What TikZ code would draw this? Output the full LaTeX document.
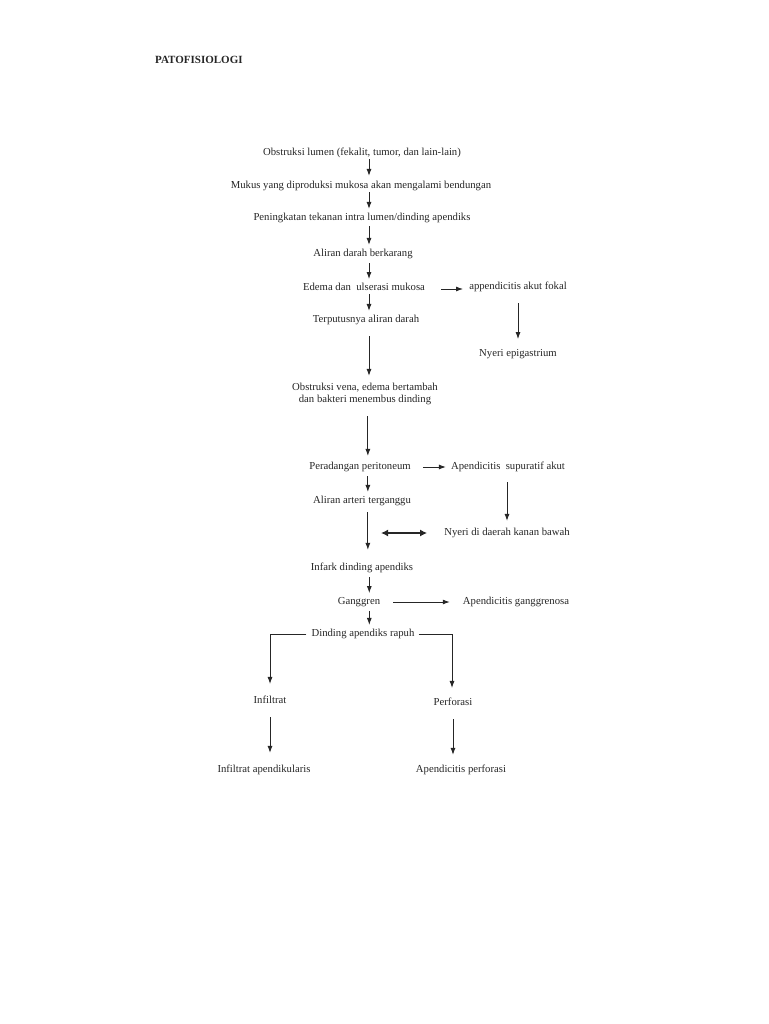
\documentclass[tikz,border=0pt]{standalone}
\usepackage{fontspec}
\setmainfont{Liberation Serif}
\usetikzlibrary{positioning, arrows.meta, calc}

\begin{document}
\begin{tikzpicture}[
    x=1pt, y=-1pt,
    txt/.style={font=\fontsize{10.7}{12}\selectfont, align=center, inner sep=1pt, text=black!85},
    arr/.style={-{Latex[length=7pt,width=5pt]}, line width=0.9pt, black!85},
    bothway/.style={{Latex[length=7pt,width=7pt]}-{Latex[length=7pt,width=7pt]}, line width=1.9pt, black!85}
]
\useasboundingbox (0,0) rectangle (768,1024);
\node[font=\fontsize{11}{13}\selectfont\bfseries, anchor=west, inner sep=0pt, text=black!85] (title) at (155,60) {PATOFISIOLOGI};

% main column
\coordinate (spine) at (369,0);
\node[txt] (obs)   at (362,153) {Obstruksi lumen (fekalit, tumor, dan lain-lain)};
\node[txt] (mukus) at (361,186) {Mukus yang diproduksi mukosa akan mengalami bendungan};
\node[txt] (tekan) at (362,218) {Peningkatan tekanan intra lumen/dinding apendiks};
\node[txt] (alir)  at (363,254) {Aliran darah berkarang};
\node[txt] (edema) at (364,287) {Edema dan \ ulserasi mukosa};
\node[txt] (putus) at (366,320) {Terputusnya aliran darah};
\node[txt] (vena)  at (365,394) {Obstruksi vena, edema bertambah\\dan bakteri menembus dinding};
\node[txt] (radang) at (360,467) {Peradangan peritoneum};
\node[txt] (arteri) at (362,501) {Aliran arteri terganggu};
\node[txt] (infark) at (362,568) {Infark dinding apendiks};
\node[txt] (gang)   at (359,602) {Ganggren};
\node[txt] (rapuh)  at (363,634) {Dinding apendiks rapuh};

% side column
\node[txt] (fokal)  at (518,287) {appendicitis akut fokal};
\node[txt] (epi)    at (518,354) {Nyeri epigastrium};
\node[txt] (supur)  at (508,467) {Apendicitis \ supuratif akut};
\node[txt] (nyeri)  at (507,533) {Nyeri di daerah kanan bawah};
\node[txt] (gosa)   at (516,602) {Apendicitis ganggrenosa};

% branches
\node[txt] (infil)  at (270,700) {Infiltrat};
\node[txt] (perf)   at (453,702) {Perforasi};
\node[txt] (apdk)   at (264,770) {Infiltrat apendikularis};
\node[txt] (apperf) at (461,770) {Apendicitis perforasi};
\coordinate (dblL) at (381,533);

\draw[arr, shorten >=4pt] (obs.south -| spine) -- (mukus.north -| spine);
\draw[arr, shorten >=3pt] (mukus.south -| spine) -- (tekan.north -| spine);
\draw[arr, shorten <=2pt, shorten >=3pt] (tekan.south -| spine) -- (alir.north -| spine);
\draw[arr, shorten <=3pt, shorten >=3pt] (alir.south -| spine) -- (edema.north -| spine);
\draw[arr, shorten <=2pt, shorten >=3pt] (edema.south -| spine) -- (putus.north -| spine);
\draw[arr, shorten <=10pt, shorten >=6pt] (putus.south -| spine) -- (vena.north -| spine);
\draw[arr, shorten <=10pt, shorten >=5pt] (vena.south -| radang.north east) ++(-44,0) coordinate (v0) -- (radang.north -| v0);
\draw[arr, shorten <=3pt, shorten >=3pt] (radang.south -| v0) -- (arteri.north -| v0);
\draw[arr, shorten <=5pt, shorten >=12pt] (arteri.south -| v0) -- (infark.north -| v0);
\draw[arr, shorten <=3pt, shorten >=3pt] (infark.south -| gang.east) ++(-12,0) coordinate (g0) -- (gang.north -| g0);
\draw[arr, shorten <=3pt, shorten >=3pt] (gang.south -| g0) -- (rapuh.north -| g0);

\draw[arr, shorten <=15pt, shorten >=5pt] ([yshift=-2pt]edema.east) -- ([yshift=-2pt]fokal.west);
\draw[arr, shorten <=10pt, shorten >=9pt] (fokal.south) -- (epi.north);
\draw[arr, shorten <=11pt, shorten >=4pt] (radang.east) -- (supur.west);
\draw[arr, shorten <=9pt, shorten >=6pt] (supur.south -| nyeri) -- (nyeri.north);
\draw[bothway, shorten >=16pt] (dblL) -- (nyeri.west);
\draw[arr, shorten <=12pt, shorten >=12pt] (gang.east) -- (gosa.west);

\draw[arr, shorten >=11pt] ([xshift=-4pt]rapuh.west) -| (infil.north);
\draw[arr, shorten >=9pt] ([xshift=3pt]rapuh.east) -| ([xshift=-1pt]perf.north);
\draw[arr, shorten <=12pt, shorten >=11pt] (infil.south) -- (apdk.north -| infil);
\draw[arr, shorten <=12pt, shorten >=9pt] (perf.south) -- (apperf.north -| perf);
\end{tikzpicture}
\end{document}
